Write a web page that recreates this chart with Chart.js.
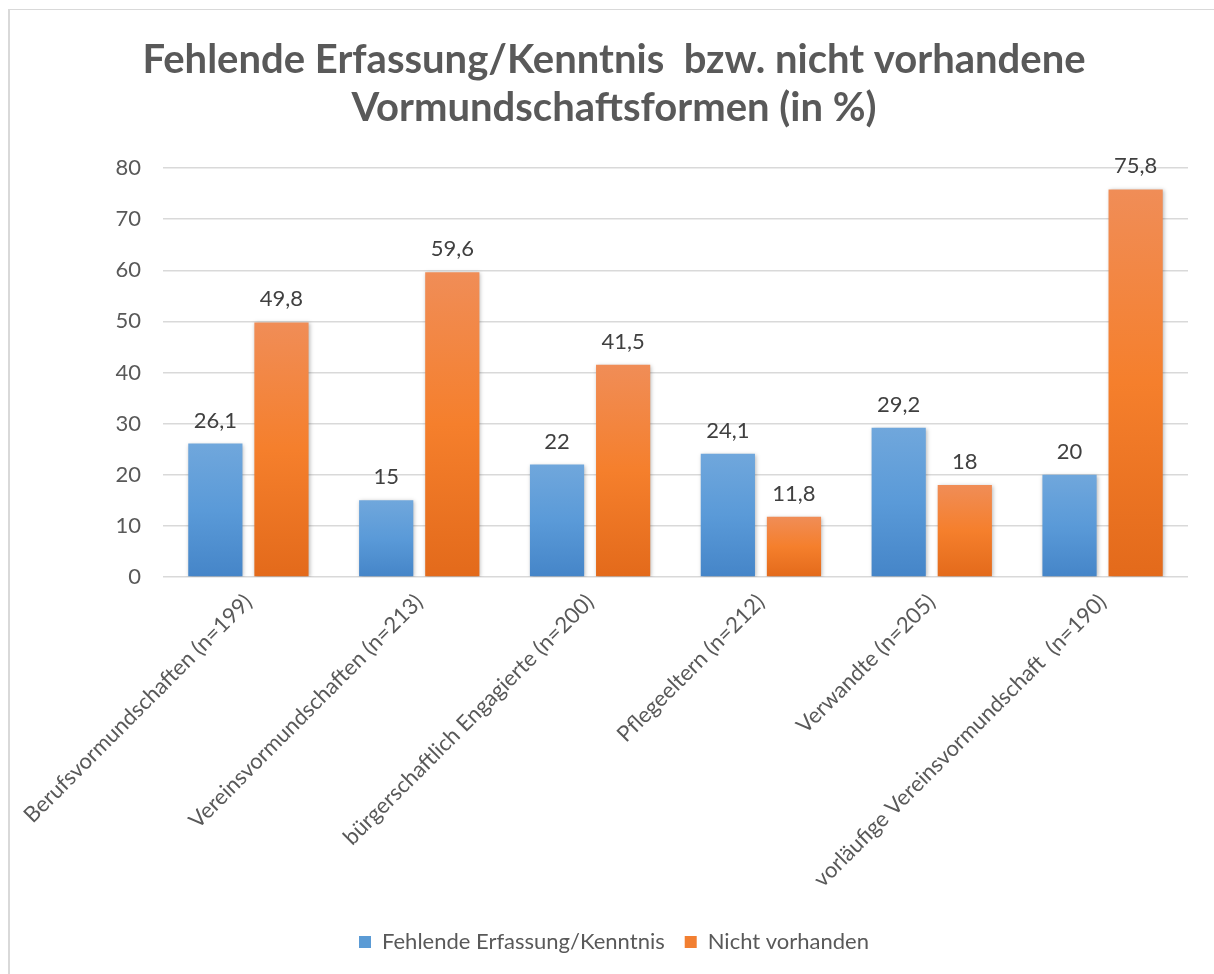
<!DOCTYPE html>
<html>
<head>
<meta charset="utf-8">
<script src="https://cdn.jsdelivr.net/npm/chart.js@4.4.1/dist/chart.umd.min.js"></script>
<style>
html, body { margin: 0; padding: 0; background: #fff; overflow: hidden; }
#frame { position: absolute; left: 8px; top: 9px; width: 1300px; height: 1100px; border-left: 2px solid #d9d9d9; border-top: 1px solid #d9d9d9; }
#wrap { position: absolute; left: 0; top: 0; width: 1214px; height: 974px; }
</style>
</head>
<body>
<div id="frame"></div>
<div id="wrap"><canvas id="chart" width="1214" height="974"></canvas></div>
<script>
const categories = [
    'Berufsvormundschaften (n=199)',
    'Vereinsvormundschaften (n=213)',
    'bürgerschaftlich Engagierte (n=200)',
    'Pflegeeltern (n=212)',
    'Verwandte (n=205)',
    'vorläufige Vereinsvormundschaft  (n=190)'
];
const fehlendeErfassung = [26.1, 15, 22, 24.1, 29.2, 20];
const nichtVorhanden = [49.8, 59.6, 41.5, 11.8, 18, 75.8];
const seriesNames = ['Fehlende Erfassung/Kenntnis', 'Nicht vorhanden'];
const titleLines = ['Fehlende Erfassung/Kenntnis  bzw. nicht vorhandene', 'Vormundschaftsformen (in %)'];
const yMin = 0, yMax = 80, yStep = 10;

const FONT = 'Lato, "Open Sans", sans-serif';

// vertical gradient per bar, light at the top, darker at the base
function barGradient(light, mid, dark) {
    return function(ctx) {
        const chart = ctx.chart;
        const y = chart.scales.y;
        if (!chart.chartArea || !y || ctx.raw === undefined) return mid;
        const yTop = y.getPixelForValue(ctx.raw);
        const yBot = y.getPixelForValue(0);
        if (!isFinite(yTop) || !isFinite(yBot) || yTop === yBot) return mid;
        const g = chart.ctx.createLinearGradient(0, yTop, 0, yBot);
        g.addColorStop(0, light);
        g.addColorStop(0.5, mid);
        g.addColorStop(1, dark);
        return g;
    };
}

const legendColors = ['#5b9bd5', '#f27f31'];

const barExtras = {
    id: 'barExtras',
    beforeDatasetsDraw(chart) {
        const ctx = chart.ctx;
        ctx.save();
        ctx.shadowColor = 'rgba(0,0,0,0.28)';
        ctx.shadowBlur = 4;
        ctx.shadowOffsetX = 1;
        ctx.shadowOffsetY = 1;
    },
    afterDatasetsDraw(chart) {
        const ctx = chart.ctx;
        ctx.restore();
        ctx.save();
        ctx.font = '22px ' + FONT;
        ctx.fillStyle = '#404040';
        ctx.textAlign = 'center';
        ctx.textBaseline = 'alphabetic';
        chart.data.datasets.forEach((ds, i) => {
            chart.getDatasetMeta(i).data.forEach((bar, j) => {
                const label = String(ds.data[j]).replace('.', ',');
                ctx.fillText(label, bar.x, bar.y - 16);
            });
        });
        ctx.restore();
    }
};

new Chart(document.getElementById('chart'), {
    type: 'bar',
    data: {
        labels: categories,
        datasets: [{
            label: seriesNames[0],
            data: fehlendeErfassung,
            backgroundColor: barGradient('#70a7dc', '#5a9ad8', '#4585c8'),
            categoryPercentage: 0.774,
            barPercentage: 0.82
        }, {
            label: seriesNames[1],
            data: nichtVorhanden,
            backgroundColor: barGradient('#f08d57', '#f57f2c', '#e36a1b'),
            categoryPercentage: 0.774,
            barPercentage: 0.82
        }]
    },
    options: {
        responsive: false,
        animation: false,
        layout: { padding: { left: 40, right: 26, top: 0, bottom: 11 } },
        scales: {
            x: {
                grid: { display: false },
                border: { display: false },
                ticks: {
                    autoSkip: false,
                    maxRotation: 45,
                    minRotation: 45,
                    padding: 4,
                    color: '#595959',
                    font: { family: FONT, size: 22 }
                },
                afterFit(scale) { scale.height = 334; }
            },
            y: {
                min: yMin,
                max: yMax,
                ticks: {
                    stepSize: yStep,
                    padding: 22,
                    color: '#595959',
                    font: { family: FONT, size: 22 }
                },
                grid: { color: '#d9d9d9', lineWidth: 1.5, drawTicks: false },
                border: { display: false },
                afterFit(scale) { scale.width = 123; }
            }
        },
        plugins: {
            title: {
                display: true,
                text: titleLines,
                color: '#595959',
                font: { family: FONT, size: 40, weight: 'bold', lineHeight: 1.2 },
                padding: { top: 36, bottom: 36 }
            },
            legend: {
                position: 'bottom',
                labels: {
                    boxWidth: 12,
                    boxHeight: 12,
                    padding: 20,
                    color: '#595959',
                    font: { family: FONT, size: 22 },
                    generateLabels(chart) {
                        return Chart.defaults.plugins.legend.labels.generateLabels(chart).map((l, i) => ({
                            ...l, fillStyle: legendColors[i], strokeStyle: legendColors[i], lineWidth: 0
                        }));
                    }
                }
            },
            tooltip: { enabled: false }
        }
    },
    plugins: [barExtras]
});
</script>
</body>
</html>
